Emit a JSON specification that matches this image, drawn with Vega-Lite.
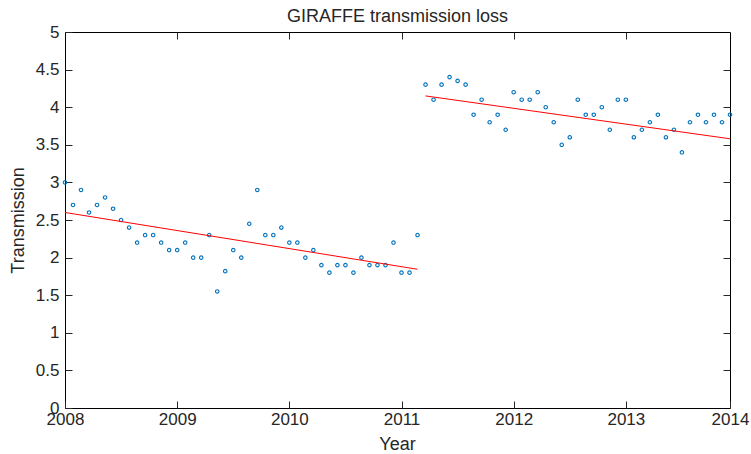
{
  "$schema": "https://vega.github.io/schema/vega-lite/v6.json",
  "width": 665,
  "height": 376,
  "autosize": {"type": "none"},
  "padding": {"left": 65, "top": 32, "right": 21, "bottom": 46},
  "background": "white",
  "title": {"text": "GIRAFFE transmission loss", "anchor": "middle", "frame": "group", "offset": -3, "fontSize": 18, "font": "Liberation Sans", "fontWeight": "normal", "color": "#262626"},
  "config": {
    "view": {"stroke": "#000000", "strokeWidth": 1},
    "axis": {"labelFont": "Liberation Sans", "titleFont": "Liberation Sans", "labelFontSize": 17, "titleFontSize": 18, "titleFontWeight": "normal", "labelColor": "#262626", "titleColor": "#262626", "grid": false, "domain": false, "tickColor": "#262626", "tickWidth": 1}
  },
  "datasets": {
    "pts": [
      {"i": 1, "t": 3.0}, {"i": 2, "t": 2.7}, {"i": 3, "t": 2.9}, {"i": 4, "t": 2.6}, {"i": 5, "t": 2.7},
      {"i": 6, "t": 2.8}, {"i": 7, "t": 2.65}, {"i": 8, "t": 2.5}, {"i": 9, "t": 2.4}, {"i": 10, "t": 2.2},
      {"i": 11, "t": 2.3}, {"i": 12, "t": 2.3}, {"i": 13, "t": 2.2}, {"i": 14, "t": 2.1}, {"i": 15, "t": 2.1},
      {"i": 16, "t": 2.2}, {"i": 17, "t": 2.0}, {"i": 18, "t": 2.0}, {"i": 19, "t": 2.3}, {"i": 20, "t": 1.55},
      {"i": 21, "t": 1.82}, {"i": 22, "t": 2.1}, {"i": 23, "t": 2.0}, {"i": 24, "t": 2.45}, {"i": 25, "t": 2.9},
      {"i": 26, "t": 2.3}, {"i": 27, "t": 2.3}, {"i": 28, "t": 2.4}, {"i": 29, "t": 2.2}, {"i": 30, "t": 2.2},
      {"i": 31, "t": 2.0}, {"i": 32, "t": 2.1}, {"i": 33, "t": 1.9}, {"i": 34, "t": 1.8}, {"i": 35, "t": 1.9},
      {"i": 36, "t": 1.9}, {"i": 37, "t": 1.8}, {"i": 38, "t": 2.0}, {"i": 39, "t": 1.9}, {"i": 40, "t": 1.9},
      {"i": 41, "t": 1.9}, {"i": 42, "t": 2.2}, {"i": 43, "t": 1.8}, {"i": 44, "t": 1.8}, {"i": 45, "t": 2.3},
      {"i": 46, "t": 4.3}, {"i": 47, "t": 4.1}, {"i": 48, "t": 4.3}, {"i": 49, "t": 4.4}, {"i": 50, "t": 4.35},
      {"i": 51, "t": 4.3}, {"i": 52, "t": 3.9}, {"i": 53, "t": 4.1}, {"i": 54, "t": 3.8}, {"i": 55, "t": 3.9},
      {"i": 56, "t": 3.7}, {"i": 57, "t": 4.2}, {"i": 58, "t": 4.1}, {"i": 59, "t": 4.1}, {"i": 60, "t": 4.2},
      {"i": 61, "t": 4.0}, {"i": 62, "t": 3.8}, {"i": 63, "t": 3.5}, {"i": 64, "t": 3.6}, {"i": 65, "t": 4.1},
      {"i": 66, "t": 3.9}, {"i": 67, "t": 3.9}, {"i": 68, "t": 4.0}, {"i": 69, "t": 3.7}, {"i": 70, "t": 4.1},
      {"i": 71, "t": 4.1}, {"i": 72, "t": 3.6}, {"i": 73, "t": 3.7}, {"i": 74, "t": 3.8}, {"i": 75, "t": 3.9},
      {"i": 76, "t": 3.6}, {"i": 77, "t": 3.7}, {"i": 78, "t": 3.4}, {"i": 79, "t": 3.8}, {"i": 80, "t": 3.9},
      {"i": 81, "t": 3.8}, {"i": 82, "t": 3.9}, {"i": 83, "t": 3.8}, {"i": 84, "t": 3.9}
    ],
    "fit": [
      {"i": 1, "fit": 2.6, "seg": "a"}, {"i": 45, "fit": 1.845, "seg": "a"},
      {"i": 46, "fit": 4.15, "seg": "b"}, {"i": 84, "fit": 3.58, "seg": "b"}
    ]
  },
  "layer": [
    {
      "data": {"name": "pts"},
      "mark": {"type": "point", "shape": "circle", "filled": false, "color": "#0072BD", "size": 12, "strokeWidth": 1.1, "opacity": 1},
      "encoding": {
        "x": {"field": "i", "type": "quantitative", "scale": {"domain": [1, 84], "nice": false, "zero": false},
          "axis": {"orient": "bottom", "values": [1, 15, 29, 43, 57, 71, 84], "labelExpr": "format(2008 + ceil((datum.value - 1) / 14), 'd')", "tickSize": -7, "labelPadding": 10, "labelFlush": false, "title": "Year", "titleX": 332, "titleY": 36, "titleBaseline": "middle", "titleAlign": "center"}},
        "y": {"field": "t", "type": "quantitative", "scale": {"domain": [0, 5], "nice": false, "zero": false},
          "axis": {"orient": "left", "values": [0, 0.5, 1, 1.5, 2, 2.5, 3, 3.5, 4, 4.5, 5], "format": ".2~f", "tickSize": -7, "labelPadding": 13, "labelFlush": false, "title": "Transmission", "titleX": -47, "titleY": 188, "titleAngle": -90, "titleBaseline": "middle", "titleAlign": "center"}}
      }
    },
    {
      "data": {"name": "fit"},
      "mark": {"type": "line", "color": "#FF0000", "strokeWidth": 1},
      "encoding": {
        "x": {"field": "i", "type": "quantitative", "scale": {"domain": [1, 84], "nice": false, "zero": false},
          "axis": {"orient": "top", "values": [15, 29, 43, 57, 71], "labels": false, "tickSize": -7, "title": null}},
        "y": {"field": "fit", "type": "quantitative", "scale": {"domain": [0, 5], "nice": false, "zero": false},
          "axis": {"orient": "right", "values": [0.5, 1, 1.5, 2, 2.5, 3, 3.5, 4, 4.5], "labels": false, "tickSize": -7, "title": null}},
        "detail": {"field": "seg"}
      }
    }
  ],
  "resolve": {"axis": {"x": "independent", "y": "independent"}}
}
